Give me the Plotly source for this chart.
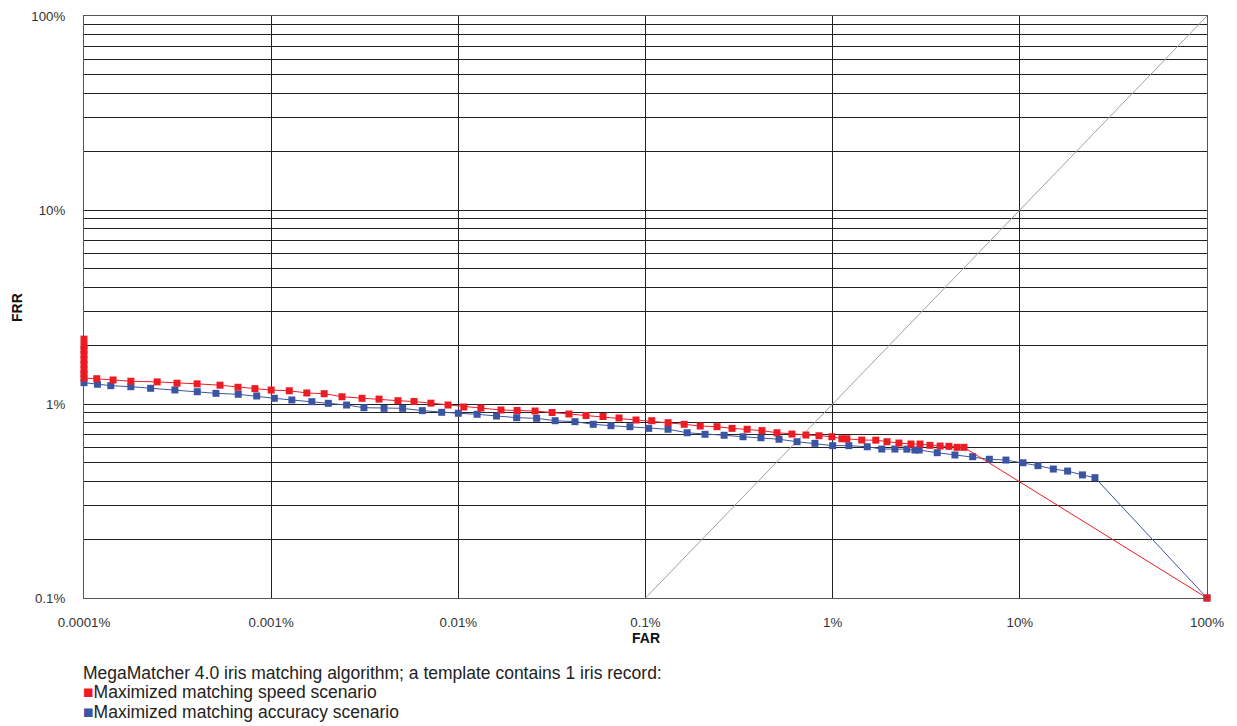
import plotly.graph_objects as go

# FAR / FRR values in percent
far_speed = [0.0001, 0.0001, 0.0001, 0.0001, 0.0001, 0.0001, 0.0001, 0.0001, 0.0001,
             0.000117, 0.000143, 0.000178, 0.000246, 0.000314, 0.000402, 0.000533, 0.000665, 0.000819,
             0.0010, 0.00125, 0.00155, 0.00192, 0.00239, 0.00306, 0.00377, 0.00476, 0.00580, 0.00714,
             0.00881, 0.0107, 0.0132, 0.0169, 0.0206, 0.0257, 0.0317, 0.0390, 0.0481, 0.0593, 0.0722,
             0.0890, 0.108, 0.132, 0.161, 0.196, 0.241, 0.290, 0.349, 0.419, 0.504, 0.606, 0.720, 0.845,
             0.99, 1.12, 1.19, 1.43, 1.70, 1.95, 2.26, 2.62, 2.93, 3.31, 3.75, 4.18, 4.62, 5.03, 100]
frr_speed = [2.16, 2.0, 1.9, 1.8, 1.69, 1.6, 1.5, 1.43, 1.36,
             1.35, 1.33, 1.31, 1.30, 1.28, 1.27, 1.25, 1.22, 1.20,
             1.18, 1.17, 1.14, 1.13, 1.09, 1.07, 1.06, 1.04, 1.03, 1.01,
             0.988, 0.965, 0.954, 0.931, 0.926, 0.920, 0.904, 0.888, 0.872, 0.862, 0.847,
             0.827, 0.820, 0.801, 0.786, 0.770, 0.764, 0.749, 0.741, 0.729, 0.711, 0.700, 0.692, 0.686,
             0.678, 0.662, 0.662, 0.652, 0.651, 0.639, 0.629, 0.622, 0.622, 0.612, 0.607, 0.605, 0.598, 0.598, 0.1]

far_accuracy = [0.0001, 0.000118, 0.000139, 0.000178, 0.000227, 0.000306, 0.000403, 0.000507, 0.000667,
                0.000837, 0.00104, 0.00129, 0.00165, 0.00202, 0.00253, 0.00313, 0.00401, 0.00504,
                0.00642, 0.00815, 0.0100, 0.0126, 0.0160, 0.0205, 0.0262, 0.0329, 0.0420, 0.0526,
                0.0654, 0.0826, 0.104, 0.132, 0.167, 0.208, 0.263, 0.332, 0.414, 0.517, 0.645, 0.804,
                1.00, 1.22, 1.53, 1.83, 2.15, 2.49, 2.75, 2.90, 3.62, 4.50, 5.60, 6.87, 8.43, 10.4,
                12.5, 15.1, 18.0, 21.6, 25.2, 100]
frr_accuracy = [1.288, 1.264, 1.243, 1.228, 1.205, 1.181, 1.157, 1.135, 1.122,
                1.100, 1.070, 1.049, 1.028, 1.008, 0.988, 0.957, 0.950, 0.950,
                0.924, 0.906, 0.896, 0.885, 0.867, 0.850, 0.844, 0.820, 0.811, 0.786,
                0.773, 0.764, 0.749, 0.741, 0.711, 0.698, 0.690, 0.678, 0.670, 0.658, 0.639, 0.627,
                0.610, 0.610, 0.602, 0.586, 0.586, 0.585, 0.579, 0.579, 0.561, 0.546, 0.535, 0.519,
                0.514, 0.498, 0.481, 0.462, 0.451, 0.431, 0.417, 0.1]

eer_line = [0.1, 100]

x_ticks = [0.0001, 0.001, 0.01, 0.1, 1, 10, 100]
x_labels = ["0.0001%", "0.001%", "0.01%", "0.1%", "1%", "10%", "100%"]
y_ticks = [0.1, 1, 10, 100]
y_labels = ["0.1%", "1%", "10%", "100%"]

legend_title = "MegaMatcher 4.0 iris matching algorithm; a template contains 1 iris record:"
name_speed = "Maximized matching speed scenario"
name_accuracy = "Maximized matching accuracy scenario"

RED = "#ed1c24"
BLUE = "#3a55a4"
GRID = "#222222"
FONT = "Liberation Sans, Arial, sans-serif"

fig = go.Figure()
fig.add_trace(go.Scatter(x=eer_line, y=eer_line, mode="lines",
                         line=dict(color="#a0a0a0", width=1), showlegend=False, hoverinfo="skip"))
fig.add_trace(go.Scatter(x=far_accuracy, y=frr_accuracy, mode="lines+markers", name=name_accuracy,
                         line=dict(color=BLUE, width=1), cliponaxis=False,
                         marker=dict(symbol="square", size=7, color=BLUE), showlegend=False))
fig.add_trace(go.Scatter(x=far_speed, y=frr_speed, mode="lines+markers", name=name_speed,
                         line=dict(color=RED, width=1), cliponaxis=False,
                         marker=dict(symbol="square", size=7, color=RED), showlegend=False))

fig.update_xaxes(type="log", range=[-4, 2], tickvals=x_ticks, ticktext=x_labels,
                 showgrid=True, gridcolor=GRID, gridwidth=1, automargin=False,
                 showline=True, linecolor="#555555", linewidth=1, mirror=True,
                 zeroline=False, ticks="", ticklabelstandoff=12,
                 tickfont=dict(family=FONT, size=13.3, color="#333333"))
fig.update_yaxes(type="log", range=[-1, 2], tickvals=y_ticks, ticktext=y_labels,
                 showgrid=True, gridcolor=GRID, gridwidth=1, automargin=False,
                 minor=dict(dtick="D1", showgrid=True, gridcolor=GRID, gridwidth=1, ticks=""),
                 showline=True, linecolor="#555555", linewidth=1, mirror=True,
                 zeroline=False, ticks="", ticklabelstandoff=15,
                 tickfont=dict(family=FONT, size=13.3, color="#333333"))

TITLE_FONT = dict(family=FONT, size=14, color="#111111")
fig.add_annotation(xref="paper", yref="paper", x=0.5, y=-0.0687, xanchor="center", yanchor="middle",
                   showarrow=False, text="<b>FAR</b>", font=TITLE_FONT)
fig.add_annotation(xref="paper", yref="paper", x=-0.0597, y=0.5, xanchor="center", yanchor="middle",
                   showarrow=False, text="<b>FRR</b>", textangle=-90, font=TITLE_FONT)

LEG_FONT = dict(family=FONT, size=17.5, color="#222222")
fig.add_annotation(xref="paper", yref="paper", x=0, y=-0.1289, xanchor="left", yanchor="middle",
                   showarrow=False, text=legend_title, font=LEG_FONT, xshift=-3)
fig.add_annotation(xref="paper", yref="paper", x=0, y=-0.1615, xanchor="left", yanchor="middle",
                   showarrow=False,
                   text=f"<span style='color:{RED}'>■</span>{name_speed}", font=LEG_FONT, xshift=-3)
fig.add_annotation(xref="paper", yref="paper", x=0, y=-0.1959, xanchor="left", yanchor="middle",
                   showarrow=False,
                   text=f"<span style='color:{BLUE}'>■</span>{name_accuracy}", font=LEG_FONT, xshift=-3)

fig.update_layout(width=1237, height=726, margin=dict(l=84, r=30, t=16, b=128),
                  plot_bgcolor="white", paper_bgcolor="white", showlegend=False)

fig.write_html("out.html")
